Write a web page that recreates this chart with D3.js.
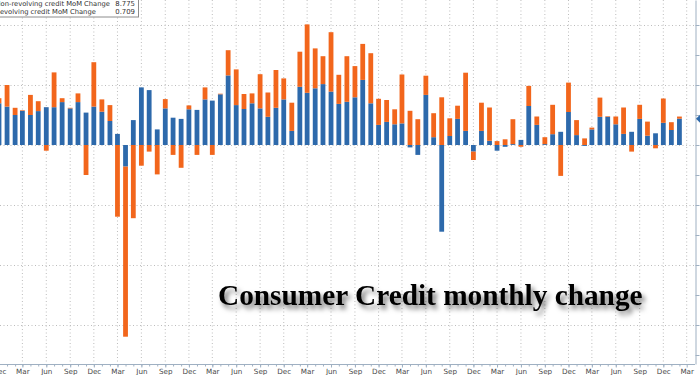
<!DOCTYPE html>
<html>
<head>
<meta charset="utf-8">
<script src="https://cdn.jsdelivr.net/npm/d3@7"></script>
<style>
  body { margin: 0; background: #fff; }
  svg { display: block; }
</style>
</head>
<body>
<div id="chart"></div>
<script>
// monthly data, first bar is Dec 2018, last is Feb 2026
var firstMonth = new Date(2018, 11, 1);
var axisEndMonth = new Date(2026, 2, 1);

// $bn
var nonRevolving = [
  13.9, 12.8, 10.0, 11.4, 10.0, 11.3, 12.6, 12.6, 14.3, 12.2, 14.3, 10.8, 12.8,
  11.1, 8.0, 3.7, -7.2, 8.3, 19.2, 18.3, 5.2, 12.2, 9.1, 8.7, 11.9,
  11.7, 15.2, 14.8, 16.9, 23.2, 13.3, 12.0, 13.9, 12.2, 9.4, 12.4, 15.2,
  4.7, 19.4, 17.4, 18.9, 20.3, 17.8, 13.7, 14.4, 15.9, 21.7, 13.9, 6.7,
  7.7, 6.9, 7.2, -0.8, -3.3, 16.7, 2.6, -28.9, 3.0, 8.7, 4.7, -2.2,
  4.7, 1.4, -1.9, -0.6, 0.3, 1.7, 13.0, 6.7, 0.3, 3.6, 4.4, 11.0,
  3.3, -0.3, 5.2, 9.4, 9.4, 6.9, 3.7, 4.4, 8.7, 3.1, 3.9, 7.4,
  5.0, 8.775
];
var revolving = [
  1.7, 7.2, 2.4, 0.2, 6.7, 3.3, -1.9, 11.6, 1.3, 0.2, 2.9, -10.0, 14.8,
  4.1, 5.3, -23.9, -56.7, -24.4, -6.9, -2.2, -9.8, 3.1, -3.3, -7.6, 1.3,
  -3.3, 4.0, -3.3, 0.2, 8.4, 11.9, 5.0, 3.3, 11.4, 8.1, 12.6, 7.0,
  9.4, 11.7, 22.8, 13.3, 9.3, 19.8, 9.7, 15.2, 10.4, 12.0, 16.7, 8.7,
  7.3, 5.0, 16.3, 11.4, 8.6, 6.4, 8.0, 15.9, 5.9, 4.4, 19.4, -2.8,
  9.4, 11.1, 1.3, 1.9, 8.3, -0.6, 6.7, 2.8, 2.3, 9.8, -10.3, 9.8,
  5.0, 2.2, 0.6, 6.4, 0.2, 2.6, 8.8, -2.2, 4.7, 4.7, -1.1, 8.1,
  2.6, 0.709
];
var seriesKeys = ["nonRevolving", "revolving"];
var seriesColors = ["#2d69ab", "#f2661c"];
var legendLabels = ["Non-revolving credit MoM Change", "Revolving credit MoM Change"];
var legendValues = ["8.775", "0.709"];
var gridValues = [-60, -40, -20, 0, 20, 40];
var chartTitle = "Consumer Credit monthly change";

var width = 700, height = 375;
var plotRight = 695, plotBottom = 364;

var months = nonRevolving.map(function(d, i) { return d3.timeMonth.offset(firstMonth, i); });
var table = months.map(function(m, i) {
  return {date: m, nonRevolving: nonRevolving[i], revolving: revolving[i]};
});

var svg = d3.select("#chart")
  .append("svg")
    .attr("width", width)
    .attr("height", height)
    .style("font-family", "'DejaVu Sans', sans-serif");

var defs = svg.append("defs");
defs.append("filter")
    .attr("id", "titleShadow")
    .attr("x", "-5%").attr("y", "-40%")
    .attr("width", "115%").attr("height", "200%")
  .append("feDropShadow")
    .attr("dx", 3).attr("dy", 4)
    .attr("stdDeviation", 2.4)
    .attr("flood-color", "#000")
    .attr("flood-opacity", 0.55);

// scales
var x = d3.scaleTime()
  .domain([firstMonth, axisEndMonth])
  .range([-1, 686.7]);

var y = d3.scaleLinear()
  .domain([(145 - plotBottom) / 3, 145 / 3])
  .range([plotBottom, 0]);

var barWidth = 4.8;

var quarterTicks = d3.timeMonth.range(firstMonth, d3.timeMonth.offset(axisEndMonth, 1))
  .filter(function(d) { return d.getMonth() % 3 === 2; });

// grid
svg.append("g")
  .selectAll("line")
  .data(quarterTicks)
  .enter().append("line")
    .attr("x1", function(d) { return x(d); })
    .attr("x2", function(d) { return x(d); })
    .attr("y1", 0)
    .attr("y2", plotBottom)
    .attr("stroke", "#bdbdbd")
    .attr("stroke-width", 1)
    .attr("stroke-dasharray", "1,2.5");

svg.append("g")
  .selectAll("line")
  .data(gridValues)
  .enter().append("line")
    .attr("x1", 0)
    .attr("x2", plotRight)
    .attr("y1", function(d) { return y(d) + 0.5; })
    .attr("y2", function(d) { return y(d) + 0.5; })
    .attr("stroke", "#bdbdbd")
    .attr("stroke-width", 1)
    .attr("stroke-dasharray", "1,2.5");

// stacked bars
var stacked = d3.stack()
  .keys(seriesKeys)
  .offset(d3.stackOffsetDiverging)(table);

svg.append("g")
  .selectAll("g")
  .data(stacked)
  .enter().append("g")
    .attr("fill", function(d, i) { return seriesColors[i]; })
  .selectAll("rect")
  .data(function(d) { return d; })
  .enter().append("rect")
    .attr("x", function(d) { return x(d.data.date) - barWidth / 2; })
    .attr("width", barWidth)
    .attr("y", function(d) { return y(Math.max(d[0], d[1])); })
    .attr("height", function(d) { return Math.abs(y(d[0]) - y(d[1])); });

// bottom axis
var axisColor = "#9fb0c2";
svg.append("line")
    .attr("x1", 0).attr("x2", plotRight)
    .attr("y1", plotBottom + 0.5).attr("y2", plotBottom + 0.5)
    .attr("stroke", axisColor);

var minorAxis = svg.append("g")
  .attr("transform", "translate(0," + (plotBottom + 0.5) + ")")
  .call(d3.axisBottom(x).tickValues(d3.timeMonth.range(firstMonth, axisEndMonth)).tickSize(2).tickFormat(""));
minorAxis.select(".domain").remove();
minorAxis.selectAll("line").attr("stroke", axisColor);

var xAxis = svg.append("g")
  .attr("transform", "translate(0," + (plotBottom + 0.5) + ")")
  .call(d3.axisBottom(x)
    .tickValues(quarterTicks)
    .tickFormat(d3.timeFormat("%b"))
    .tickSize(3)
    .tickPadding(1.5));
xAxis.select(".domain").remove();
xAxis.selectAll("line").attr("stroke", axisColor);
xAxis.selectAll("text")
    .attr("fill", "#4a4a4a")
    .style("font-size", "7.2px")
    .style("font-family", "'DejaVu Sans', sans-serif");

// right axis
var yAxis = svg.append("g")
  .attr("transform", "translate(" + (plotRight + 0.5) + ",0)")
  .call(d3.axisRight(y)
    .tickValues(d3.range(-70, 50, 10))
    .tickSize(4)
    .tickSizeOuter(0)
    .tickFormat(""));
yAxis.selectAll("line, path").attr("stroke", axisColor);

// last value tag for non-revolving
var lastY = y(nonRevolving[nonRevolving.length - 1]);
svg.append("path")
    .attr("d", "M" + (plotRight + 1) + "," + lastY +
               "L" + (plotRight + 5) + "," + (lastY - 4) +
               "L" + (width + 5) + "," + (lastY - 4) +
               "L" + (width + 5) + "," + (lastY + 4) +
               "L" + (plotRight + 5) + "," + (lastY + 4) + "Z")
    .attr("fill", seriesColors[0]);

// legend box (cut off at the left like the source)
var legend = svg.append("g");
legend.append("rect")
    .attr("x", -20).attr("y", -10)
    .attr("width", 158.5).attr("height", 27)
    .attr("fill", "#fff")
    .attr("stroke", "#8c8c8c")
    .attr("stroke-width", 1);

legend.selectAll(".lab")
  .data(legendLabels)
  .enter().append("text")
    .attr("class", "lab")
    .attr("x", -4.5)
    .attr("y", function(d, i) { return 6 + i * 7.5; })
    .attr("fill", "#333")
    .style("font-size", "6.75px")
    .text(function(d) { return d; });

legend.selectAll(".val")
  .data(legendValues)
  .enter().append("text")
    .attr("class", "val")
    .attr("x", 135)
    .attr("y", function(d, i) { return 6 + i * 7.5; })
    .attr("text-anchor", "end")
    .attr("fill", "#333")
    .style("font-size", "6.9px")
    .text(function(d) { return d; });

// title
svg.append("text")
    .attr("x", 218)
    .attr("y", 305)
    .attr("fill", "#000")
    .attr("filter", "url(#titleShadow)")
    .style("font-family", "'Liberation Serif', serif")
    .style("font-weight", "bold")
    .style("font-size", "29.3px")
    .text(chartTitle);
</script>
</body>
</html>
